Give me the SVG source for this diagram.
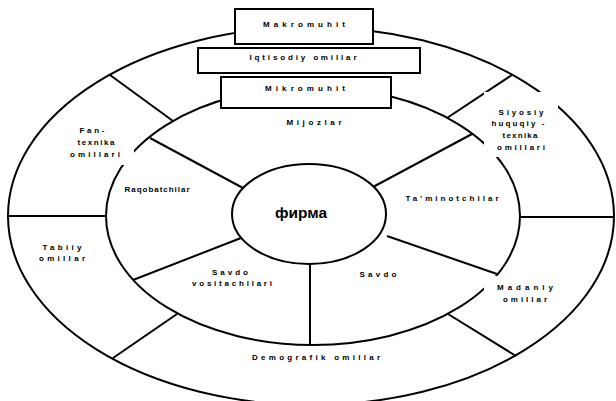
<svg xmlns="http://www.w3.org/2000/svg" width="616" height="401" viewBox="0 0 616 401">
<style>
.e{fill:none;stroke:#000;stroke-width:2}
.c line{stroke:#000;stroke-width:2}
.b{fill:#fff;stroke:#000;stroke-width:2}
.m{fill:#fff;stroke:none}
text{font-family:"Liberation Sans",Arial,sans-serif;font-size:8px;font-weight:bold;fill:#000;text-anchor:middle}
.f{font-size:14px}
</style>
<rect width="616" height="401" fill="#fff"/>
<g id="outer-ring"><ellipse class="e" cx="311" cy="216" rx="303" ry="189"/></g>
<g id="middle-ring"><ellipse class="e" cx="313" cy="216" rx="207" ry="129"/></g>
<g id="firma"><ellipse class="e" cx="309" cy="214" rx="77" ry="50"/><text class="f" x="301" y="218" textLength="52" lengthAdjust="spacingAndGlyphs">фирма</text></g>
<g id="connectors" class="c">
<line x1="8" y1="216" x2="106" y2="216"/>
<line x1="520" y1="217" x2="614" y2="217"/>
<line x1="110" y1="75" x2="173" y2="121"/>
<line x1="512" y1="75" x2="447" y2="118"/>
<line x1="177" y1="314" x2="113" y2="358"/>
<line x1="448" y1="314" x2="516" y2="356"/>
<line x1="150" y1="138" x2="243" y2="188"/>
<line x1="472" y1="134" x2="373" y2="187"/>
<line x1="133" y1="280" x2="241" y2="238"/>
<line x1="497" y1="274" x2="387" y2="236"/>
<line x1="310" y1="264" x2="310" y2="345"/>
</g>
<g id="fan-texnika"><rect class="m" x="66" y="124" width="68" height="41"/>
<text x="92" y="133" textLength="25" lengthAdjust="spacing">Fan-</text>
<text x="96" y="145" textLength="37" lengthAdjust="spacing">texnika</text>
<text x="95" y="157" textLength="50" lengthAdjust="spacing">omillari</text></g>
<g id="siyosiy"><rect class="m" x="484" y="92" width="74" height="65"/>
<text x="521" y="115" textLength="45" lengthAdjust="spacing">Siyosiy</text>
<text x="518" y="126" textLength="53" lengthAdjust="spacing">huquqiy -</text>
<text x="520" y="138" textLength="35" lengthAdjust="spacing">texnika</text>
<text x="521" y="150" textLength="48" lengthAdjust="spacing">omillari</text></g>
<g id="madaniy"><rect class="m" x="484" y="276" width="74" height="29"/>
<text x="525" y="290" textLength="56" lengthAdjust="spacing">Madaniy</text>
<text x="525" y="302" textLength="44" lengthAdjust="spacing">omillar</text></g>
<g id="tabiiy"><text x="62" y="250" textLength="39" lengthAdjust="spacing">Tabiiy</text>
<text x="62" y="261" textLength="46" lengthAdjust="spacing">omillar</text></g>
<g id="demografik"><text x="316" y="360" textLength="128" lengthAdjust="spacing">Demografik omillar</text></g>
<g id="mijozlar"><text x="314" y="125" textLength="55" lengthAdjust="spacing">Mijozlar</text></g>
<g id="raqobatchilar"><text x="157" y="192" textLength="65" lengthAdjust="spacing">Raqobatchilar</text></g>
<g id="taminotchilar"><text x="452" y="201" textLength="93" lengthAdjust="spacing">Ta'minotchilar</text></g>
<g id="savdo-vositachilari"><text x="230" y="275" textLength="36" lengthAdjust="spacing">Savdo</text>
<text x="232" y="286" textLength="80" lengthAdjust="spacing">vositachilari</text></g>
<g id="savdo"><text x="378" y="277" textLength="37" lengthAdjust="spacing">Savdo</text></g>
<g id="makromuhit"><rect class="b" x="235" y="9" width="138" height="35"/><text x="304" y="27" textLength="82" lengthAdjust="spacing">Makromuhit</text></g>
<g id="iqtisodiy"><rect class="b" x="198" y="48" width="222" height="25"/><text x="303" y="60" textLength="107" lengthAdjust="spacing">Iqtisodiy omillar</text></g>
<g id="mikromuhit"><rect class="b" x="221" y="77" width="170" height="31"/><text x="305" y="91" textLength="80" lengthAdjust="spacing">Mikromuhit</text></g>
</svg>
